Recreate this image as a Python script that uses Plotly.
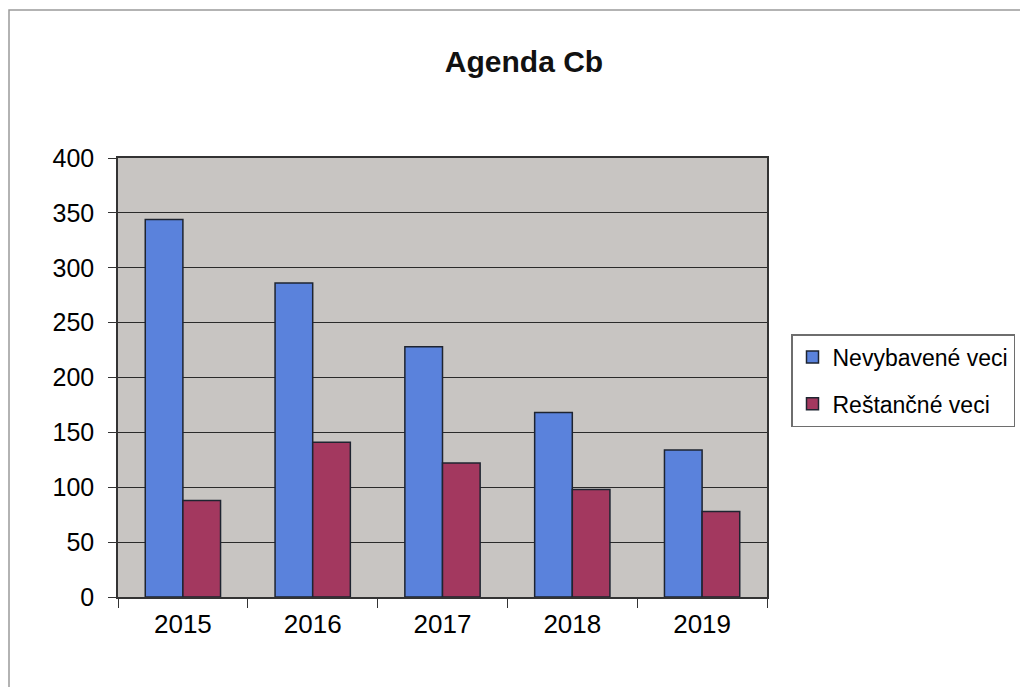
import plotly.graph_objects as go

years = ["2015", "2016", "2017", "2018", "2019"]
nevybavene = [344, 286, 228, 168, 134]
restancne = [88, 141, 122, 98, 78]
series_names = ["Nevybavené veci", "Reštančné veci"]
y_ticks = [0, 50, 100, 150, 200, 250, 300, 350, 400]

OFF = 8  # page body margin
W, H = 1028 - OFF, 687 - OFF
# plot area in page pixels
PX0, PX1, PY0, PY1 = 118, 767, 158, 597
L, R, T, B = PX0 - OFF, (W + OFF) - PX1, PY0 - OFF, (H + OFF) - PY1
pw, ph = PX1 - PX0, PY1 - PY0

def px_x(x):
    return (x - PX0) / pw

def px_y(y):
    return (PY1 - y) / ph

fig = go.Figure()
fig.add_trace(go.Bar(x=years, y=nevybavene, name=series_names[0], legendgroup="a",
                     marker=dict(color="#5a82dc", line=dict(color="#1e2430", width=1.5))))
fig.add_trace(go.Bar(x=years, y=restancne, name=series_names[1], legendgroup="b",
                     marker=dict(color="#a3385f", line=dict(color="#1e2430", width=1.5))))

fig.update_layout(
    width=W, height=H,
    margin=dict(l=L, r=R, t=T, b=B),
    paper_bgcolor="white",
    plot_bgcolor="#c8c5c2",
    barmode="group",
    bargap=0.42,
    bargroupgap=0,
    font=dict(family="Liberation Sans, Arial, sans-serif", size=24, color="black"),
    title=dict(text="<b>Agenda Cb</b>", x=(524 - OFF) / W, xanchor="center",
               y=1 - (61 - OFF) / H, yanchor="middle", font=dict(size=30, color="#111")),
    legend=dict(x=px_x(791), y=px_y(334), xanchor="left", yanchor="top",
                bordercolor="#6e6e6e", borderwidth=1.5, bgcolor="white",
                font=dict(size=23), tracegroupgap=14, itemwidth=30),
    showlegend=True,
)
fig.update_xaxes(
    tickson="boundaries", ticks="outside", ticklen=9, tickcolor="#333",
    showline=True, linecolor="#333", linewidth=1.5, mirror=True,
    tickfont=dict(size=26), ticklabelstandoff=3,
)
fig.update_yaxes(
    range=[0, 400], tickvals=y_ticks, ticks="outside", ticklen=8, tickcolor="#333",
    showline=True, linecolor="#333", linewidth=1.5, mirror=True,
    gridcolor="#2a2a2a", gridwidth=1, tickfont=dict(size=25), zeroline=False,
    ticklabelstandoff=9,
)
fig.add_shape(type="rect", xref="paper", yref="paper",
              x0=px_x(9), x1=px_x(1025), y0=px_y(700), y1=px_y(10),
              line=dict(color="#9a9a9a", width=1.5), fillcolor="rgba(0,0,0,0)", layer="below")

fig.write_html("out.html")
